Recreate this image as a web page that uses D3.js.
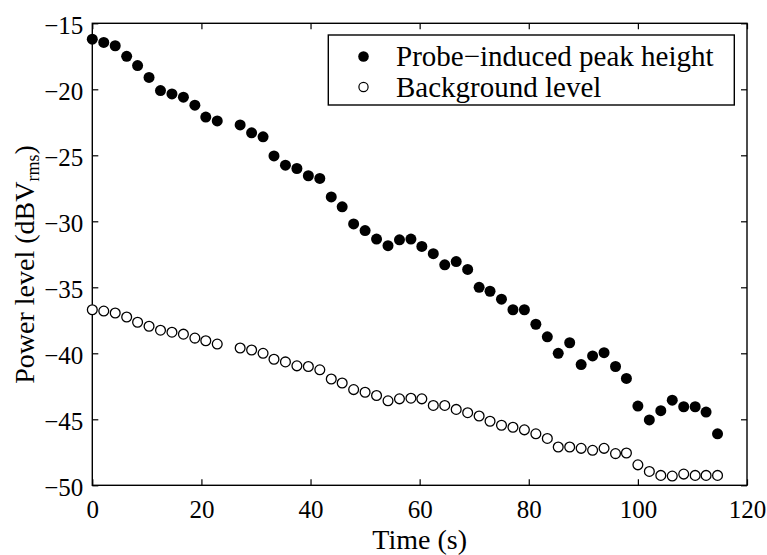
<!DOCTYPE html>
<html>
<head>
<meta charset="utf-8">
<script src="https://cdn.jsdelivr.net/npm/d3@7"></script>
<style>
  html, body { margin: 0; padding: 0; background: #fff; }
  svg { display: block; }
  text { font-family: "Liberation Serif", "Times New Roman", serif; fill: #000; }
</style>
</head>
<body>
<svg id="chart" width="767" height="555"></svg>
<script>
// ---- data ----
const times = [0, 2.1, 4.2, 6.3, 8.3, 10.4, 12.5, 14.6, 16.7, 18.8, 20.8, 22.9,
  27.1, 29.2, 31.3, 33.3, 35.4, 37.5, 39.6, 41.7, 43.8, 45.8, 47.9, 50.0, 52.1,
  54.2, 56.3, 58.4, 60.4, 62.5, 64.6, 66.7, 68.8, 70.9, 72.9, 75.0, 77.1, 79.2,
  81.3, 83.4, 85.4, 87.5, 89.6, 91.7, 93.8, 95.9, 97.9, 100.0, 102.1, 104.2,
  106.3, 108.4, 110.5, 112.5, 114.6];
const peak = [-16.2, -16.45, -16.7, -17.5, -18.2, -19.1, -20.1, -20.35, -20.6, -21.2, -22.1, -22.4,
  -22.7, -23.3, -23.6, -25.05, -25.75, -26.0, -26.55, -26.75, -28.15, -28.9, -30.2, -30.7, -31.35,
  -31.85, -31.4, -31.35, -31.9, -32.45, -33.3, -33.05, -33.65, -35.0, -35.3, -35.9, -36.7, -36.7,
  -37.8, -38.75, -40.0, -39.2, -40.85, -40.2, -39.95, -41.0, -41.9, -44.0, -45.05, -44.35,
  -43.55, -44.05, -44.05, -44.45, -46.1];
const background = [-36.7, -36.8, -36.95, -37.25, -37.65, -37.95, -38.25, -38.4, -38.55, -38.85, -39.05, -39.3,
  -39.6, -39.75, -40.0, -40.45, -40.65, -40.95, -41.0, -41.25, -41.95, -42.25, -42.75, -42.95, -43.2,
  -43.6, -43.45, -43.4, -43.45, -43.95, -43.95, -44.25, -44.5, -44.75, -45.15, -45.45, -45.6, -45.8,
  -46.1, -46.45, -47.1, -47.1, -47.2, -47.35, -47.2, -47.6, -47.55, -48.45, -48.95, -49.25,
  -49.3, -49.15, -49.25, -49.25, -49.25];
const xTicks = [0, 20, 40, 60, 80, 100, 120];
const yTicks = [-50, -45, -40, -35, -30, -25, -20, -15];
const seriesNames = ["Probe\u2212induced peak height", "Background level"];
const xLabel = "Time (s)";

// ---- layout ----
const L = 92.3, R = 747, T = 23.3, B = 485.3;
const svg = d3.select("#chart");
const x = d3.scaleLinear().domain([0, 120]).range([L, R]);
const y = d3.scaleLinear().domain([-50, -15]).range([B, T]);
const tickFont = 25;

function styleAxis(g) {
  g.select(".domain").remove();
  g.selectAll(".tick line").attr("stroke", "#000").attr("stroke-width", 1.2);
  g.selectAll("text").attr("font-size", tickFont).attr("font-family", "Liberation Serif, serif").attr("fill", "#000");
}

svg.append("g").attr("transform", `translate(0,${B})`)
  .call(d3.axisBottom(x).tickValues(xTicks).tickSizeInner(-6).tickSizeOuter(0).tickPadding(15).tickFormat(d3.format("d")))
  .call(styleAxis);
svg.append("g").attr("transform", `translate(0,${T})`)
  .call(d3.axisTop(x).tickValues(xTicks).tickSizeInner(-6).tickSizeOuter(0).tickFormat(""))
  .call(styleAxis);
svg.append("g").attr("transform", `translate(${L},0)`)
  .call(d3.axisLeft(y).tickValues(yTicks).tickSizeInner(-6).tickSizeOuter(0).tickPadding(9).tickFormat(d3.format("d")))
  .call(styleAxis)
  .call(g => g.selectAll("text").attr("dy", "0.42em"));
svg.append("g").attr("transform", `translate(${R},0)`)
  .call(d3.axisRight(y).tickValues(yTicks).tickSizeInner(-6).tickSizeOuter(0).tickFormat(""))
  .call(styleAxis);

// frame
svg.append("rect").attr("x", L).attr("y", T).attr("width", R - L).attr("height", B - T)
  .attr("fill", "none").attr("stroke", "#000").attr("stroke-width", 1.4);

// data points
const bgData = times.map((t, i) => ({ t, v: background[i] }));
const pkData = times.map((t, i) => ({ t, v: peak[i] }));

svg.append("g").selectAll("circle").data(bgData).join("circle")
  .attr("cx", d => x(d.t)).attr("cy", d => y(d.v)).attr("r", 4.9)
  .attr("fill", "#fff").attr("stroke", "#000").attr("stroke-width", 1.3);
svg.append("g").selectAll("circle").data(pkData).join("circle")
  .attr("cx", d => x(d.t)).attr("cy", d => y(d.v)).attr("r", 5.5)
  .attr("fill", "#000");

// legend
const lg = svg.append("g");
lg.append("rect").attr("x", 328.3).attr("y", 35).attr("width", 406).attr("height", 70)
  .attr("fill", "#fff").attr("stroke", "#000").attr("stroke-width", 1.4);
const rows = [56.5, 87];
lg.append("circle").attr("cx", 363.5).attr("cy", rows[0]).attr("r", 5.3).attr("fill", "#000");
lg.append("circle").attr("cx", 363.5).attr("cy", rows[1]).attr("r", 4.6)
  .attr("fill", "#fff").attr("stroke", "#000").attr("stroke-width", 1.2);
seriesNames.forEach((n, i) => {
  lg.append("text").attr("x", 396).attr("y", rows[i] + 9.5).attr("font-size", 29).text(n);
});

// axis labels
svg.append("text").attr("x", (L + R) / 2).attr("y", 549).attr("text-anchor", "middle")
  .attr("font-size", 28).text(xLabel);
const yl = svg.append("text").attr("transform", `translate(34,264.5) rotate(-90)`)
  .attr("text-anchor", "middle").attr("font-size", 28);
yl.append("tspan").text("Power level (dBV");
yl.append("tspan").attr("font-size", 18).attr("dy", 5).text("rms");
yl.append("tspan").attr("dy", -5).text(")");
</script>
</body>
</html>
